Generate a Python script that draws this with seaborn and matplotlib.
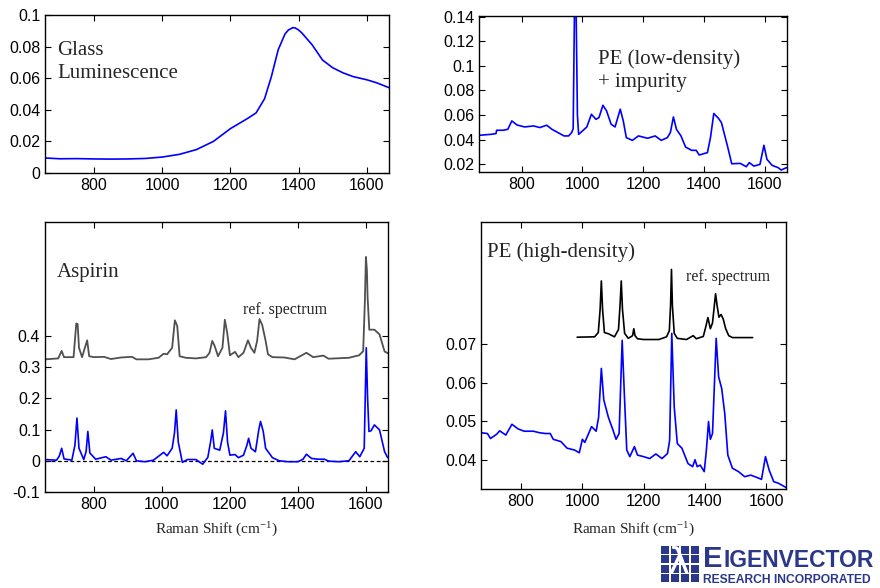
import matplotlib
matplotlib.use("Agg")
import matplotlib.pyplot as plt
import numpy as np
import seaborn as sns
from matplotlib.patches import Rectangle

# ---- data ----
x_ticks = [800, 1000, 1200, 1400, 1600]
x_tick_labels = ["800", "1000", "1200", "1400", "1600"]

glass_x = [656, 700, 750, 800, 850, 900, 950, 1000, 1050, 1100, 1150, 1200, 1250,
           1275, 1300, 1320, 1340, 1360, 1370, 1383, 1390, 1400, 1410, 1420, 1440,
           1470, 1500, 1530, 1560, 1600, 1630, 1665]
glass_y = [0.0095, 0.0090, 0.0091, 0.0089, 0.0088, 0.0089, 0.0092, 0.0101, 0.0118,
           0.0148, 0.0200, 0.0281, 0.0345, 0.0380, 0.0470, 0.0610, 0.0780, 0.0880,
           0.0905, 0.0920, 0.0918, 0.0905, 0.0885, 0.0860, 0.0810, 0.0715, 0.0666,
           0.0634, 0.0610, 0.0590, 0.0570, 0.0540]
glass_yticks = [0, 0.02, 0.04, 0.06, 0.08, 0.1]
glass_ylabels = ["0", "0.02", "0.04", "0.06", "0.08", "0.1"]

ldpe_x = [660, 700, 716, 718, 740, 755, 768, 785, 810, 840, 860, 883, 900, 920, 940,
          955, 965, 970, 975, 979, 984, 988, 1000, 1015, 1030, 1045, 1055, 1068, 1080,
          1095, 1108, 1125, 1135, 1145, 1165, 1185, 1215, 1240, 1260, 1280, 1290, 1300,
          1310, 1325, 1340, 1360, 1375, 1385, 1400, 1412, 1422, 1433, 1448, 1458, 1478,
          1492, 1520, 1540, 1550, 1565, 1585, 1598, 1608, 1625, 1645, 1655, 1672]
ldpe_y = [0.0436, 0.0444, 0.0450, 0.0477, 0.0477, 0.0485, 0.0553, 0.0520, 0.0504,
          0.0512, 0.0499, 0.0518, 0.0485, 0.0458, 0.0431, 0.0431, 0.0458, 0.0490,
          0.1600, 0.1600, 0.0600, 0.0444, 0.0470, 0.0504, 0.0607, 0.0566, 0.0580,
          0.0680, 0.0634, 0.0526, 0.0504, 0.0648, 0.0553, 0.0417, 0.0395, 0.0431,
          0.0412, 0.0431, 0.0395, 0.0417, 0.0458, 0.0585, 0.0485, 0.0431, 0.0341,
          0.0314, 0.0314, 0.0276, 0.0287, 0.0295, 0.0417, 0.0613, 0.0575, 0.0540,
          0.0349, 0.0205, 0.0208, 0.0181, 0.0214, 0.0186, 0.0200, 0.0355, 0.0241,
          0.0192, 0.0173, 0.0154, 0.0173]
ldpe_yticks = [0.02, 0.04, 0.06, 0.08, 0.1, 0.12, 0.14]
ldpe_ylabels = ["0.02", "0.04", "0.06", "0.08", "0.1", "0.12", "0.14"]

asp_x = [656, 690, 698, 705, 712, 735, 744, 750, 756, 770, 777, 782, 788, 805, 835,
         850, 880, 895, 915, 925, 950, 975, 1005, 1015, 1030, 1037, 1042, 1048, 1060,
         1075, 1100, 1120, 1135, 1143, 1148, 1154, 1170, 1181, 1187, 1193, 1200, 1215,
         1225, 1240, 1250, 1255, 1262, 1275, 1285, 1290, 1298, 1305, 1325, 1345, 1370,
         1400, 1415, 1425, 1440, 1460, 1478, 1490, 1520, 1550, 1570, 1582, 1595, 1598,
         1601, 1605, 1609, 1615, 1625, 1640, 1655, 1664]
asp_y = [0.004, 0.002, 0.015, 0.040, 0.006, 0.002, 0.050, 0.137, 0.040, 0.004, 0.030,
         0.094, 0.025, 0.005, 0.013, 0.002, 0.0075, 0.0, 0.024, 0.0, -0.003, 0.002,
         0.027, 0.016, 0.040, 0.090, 0.163, 0.060, -0.005, 0.004, 0.004, -0.011, 0.011,
         0.060, 0.099, 0.040, 0.034, 0.090, 0.160, 0.060, 0.018, 0.020, 0.010, 0.018,
         0.050, 0.072, 0.040, 0.029, 0.100, 0.126, 0.094, 0.040, 0.010, 0.0, -0.003,
         -0.003, 0.005, 0.021, 0.0075, 0.005, 0.005, -0.001, -0.003, 0.0, 0.029, 0.013,
         0.040, 0.200, 0.362, 0.200, 0.094, 0.096, 0.115, 0.099, 0.029, 0.010]
asp_ref_x = [656, 695, 705, 712, 740, 748, 752, 756, 765, 780, 786, 800, 830, 850, 880,
             912, 925, 960, 990, 1005, 1015, 1030, 1038, 1045, 1052, 1070, 1100, 1130,
             1140, 1148, 1155, 1165, 1178, 1185, 1192, 1200, 1215, 1225, 1240, 1253,
             1262, 1272, 1280, 1287, 1295, 1305, 1312, 1325, 1360, 1390, 1425, 1445,
             1475, 1490, 1550, 1580, 1592, 1597, 1600, 1603, 1605, 1610, 1625, 1640,
             1655, 1664]
asp_ref_y = [0.325, 0.328, 0.352, 0.332, 0.332, 0.440, 0.438, 0.362, 0.332, 0.386,
             0.335, 0.332, 0.333, 0.326, 0.331, 0.333, 0.325, 0.325, 0.330, 0.343,
             0.341, 0.362, 0.450, 0.432, 0.335, 0.330, 0.328, 0.332, 0.346, 0.384,
             0.368, 0.335, 0.362, 0.452, 0.410, 0.338, 0.349, 0.332, 0.346, 0.386,
             0.362, 0.346, 0.384, 0.454, 0.435, 0.384, 0.341, 0.332, 0.331, 0.325,
             0.346, 0.332, 0.337, 0.327, 0.330, 0.338, 0.351, 0.513, 0.653, 0.610,
             0.524, 0.420, 0.420, 0.405, 0.350, 0.345]
asp_yticks = [-0.1, 0, 0.1, 0.2, 0.3, 0.4]
asp_ylabels = ["-0.1", "0", "0.1", "0.2", "0.3", "0.4"]

hdpe_x = [669, 690, 700, 720, 730, 750, 770, 790, 810, 840, 860, 880, 895, 905, 930,
          950, 975, 990, 1000, 1008, 1030, 1045, 1053, 1062, 1070, 1085, 1100, 1110,
          1120, 1130, 1137, 1145, 1155, 1170, 1180, 1200, 1220, 1240, 1260, 1278, 1285,
          1292, 1300, 1310, 1325, 1345, 1360, 1368, 1375, 1385, 1398, 1405, 1412, 1418,
          1425, 1437, 1445, 1455, 1465, 1475, 1490, 1510, 1530, 1550, 1570, 1585, 1598,
          1610, 1625, 1640, 1665]
hdpe_y = [0.0470, 0.0468, 0.0455, 0.0466, 0.0475, 0.0464, 0.0492, 0.0480, 0.0474,
          0.0474, 0.0470, 0.0468, 0.0468, 0.0453, 0.0447, 0.0430, 0.0425, 0.0418,
          0.0453, 0.0445, 0.0486, 0.0474, 0.0510, 0.0637, 0.0555, 0.0510, 0.0477,
          0.0453, 0.0468, 0.0710, 0.0572, 0.0425, 0.0408, 0.0434, 0.0412, 0.0408,
          0.0403, 0.0415, 0.0403, 0.0416, 0.0450, 0.0728, 0.0537, 0.0442, 0.0430,
          0.0390, 0.0382, 0.0400, 0.0382, 0.0386, 0.0369, 0.0425, 0.0499, 0.0453,
          0.0468, 0.0715, 0.0615, 0.0585, 0.0520, 0.0412, 0.0378, 0.0369, 0.0356,
          0.0360, 0.0354, 0.0349, 0.0408, 0.0373, 0.0343, 0.0339, 0.0328]
hdpe_ref_x = [983, 1040, 1052, 1058, 1062, 1066, 1072, 1085, 1105, 1118, 1123, 1127,
              1131, 1138, 1150, 1164, 1168, 1172, 1180, 1200, 1250, 1275, 1284, 1288,
              1291, 1294, 1300, 1310, 1340, 1362, 1372, 1395, 1403, 1410, 1418, 1425,
              1431, 1435, 1440, 1446, 1453, 1460, 1468, 1478, 1490, 1556]
hdpe_ref_y = [0.0718, 0.0719, 0.0730, 0.0790, 0.0864, 0.0790, 0.0730, 0.0727, 0.0719,
              0.0738, 0.0800, 0.0864, 0.0790, 0.0728, 0.0715, 0.0722, 0.0740, 0.0722,
              0.0714, 0.0712, 0.0712, 0.0719, 0.0735, 0.0800, 0.0894, 0.0800, 0.0728,
              0.0715, 0.0712, 0.0722, 0.0714, 0.0720, 0.0745, 0.0769, 0.0740, 0.0755,
              0.0800, 0.0831, 0.0800, 0.0770, 0.0777, 0.0765, 0.0740, 0.0722, 0.0717,
              0.0717]
hdpe_yticks = [0.04, 0.05, 0.06, 0.07]
hdpe_ylabels = ["0.04", "0.05", "0.06", "0.07"]

# ---- style ----
sns.set_style("ticks")
plt.rcParams["font.family"] = ["Liberation Sans", "DejaVu Sans"]
plt.rcParams["axes.linewidth"] = 1.0
plt.rcParams["mathtext.default"] = "regular"

serif = ["Liberation Serif", "DejaVu Serif"]
navy = "#2b3788"

fig = plt.figure(figsize=(8.8, 5.88), dpi=100, facecolor="w")


def style_axes(ax, xlim, ylim, yticks, ylabels):
    ax.set_xlim(xlim)
    ax.set_ylim(ylim)
    ax.set_xticks(x_ticks, labels=x_tick_labels)
    ax.set_yticks(yticks, labels=ylabels)
    ax.tick_params(direction="in", top=True, right=True, length=4, width=0.8,
                   labelsize=11.5, colors="k")
    for s in ax.spines.values():
        s.set_visible(True)
        s.set_linewidth(1.0)
        s.set_color("k")
    ax.set_xlabel("")
    ax.set_ylabel("")


# Glass
ax1 = fig.add_axes([45 / 880, 1 - 173 / 588, 344 / 880, 158 / 588])
sns.lineplot(x=glass_x, y=glass_y, ax=ax1, color="blue", linewidth=1.2,
             sort=False, estimator=None)
style_axes(ax1, (656, 1665), (0, 0.1), glass_yticks, glass_ylabels)
ax1.text(0.035, 0.835, "Glass\nLuminescence", transform=ax1.transAxes, family=serif,
         fontsize=15, va="top", ha="left", linespacing=1.3)

# PE low density
ax2 = fig.add_axes([479 / 880, 1 - 172 / 588, 308 / 880, 156 / 588])
sns.lineplot(x=ldpe_x, y=ldpe_y, ax=ax2, color="blue", linewidth=1.2,
             sort=False, estimator=None)
style_axes(ax2, (660, 1674), (0.0138, 0.1405), ldpe_yticks, ldpe_ylabels)
ax2.text(0.386, 0.785, "PE (low-density)\n+ impurity", transform=ax2.transAxes,
         family=serif, fontsize=15, va="top", ha="left", linespacing=1.3)

# Aspirin
ax3 = fig.add_axes([45 / 880, 1 - 492 / 588, 343 / 880, 270 / 588])
ax3.axhline(0, color="k", lw=0.9, ls=(0, (3, 2)))
sns.lineplot(x=asp_ref_x, y=asp_ref_y, ax=ax3, color="#505050", linewidth=1.3,
             sort=False, estimator=None)
sns.lineplot(x=asp_x, y=asp_y, ax=ax3, color="blue", linewidth=1.2,
             sort=False, estimator=None)
style_axes(ax3, (656, 1665), (-0.1, 0.765), asp_yticks, asp_ylabels)
ax3.text(0.035, 0.85, "Aspirin", transform=ax3.transAxes, family=serif,
         fontsize=15, va="top", ha="left")
ax3.text(0.577, 0.674, "ref. spectrum", transform=ax3.transAxes, family=serif,
         fontsize=11.5, va="center", ha="left")

# PE high density
ax4 = fig.add_axes([481 / 880, 1 - 489 / 588, 305 / 880, 267 / 588])
sns.lineplot(x=hdpe_ref_x, y=hdpe_ref_y, ax=ax4, color="k", linewidth=1.2,
             sort=False, estimator=None)
sns.lineplot(x=hdpe_x, y=hdpe_y, ax=ax4, color="blue", linewidth=1.2,
             sort=False, estimator=None)
style_axes(ax4, (669, 1665), (0.0324, 0.1017), hdpe_yticks, hdpe_ylabels)
ax4.text(0.02, 0.925, "PE (high-density)", transform=ax4.transAxes, family=serif,
         fontsize=15, va="top", ha="left")
ax4.text(0.672, 0.794, "ref. spectrum", transform=ax4.transAxes, family=serif,
         fontsize=11.5, va="center", ha="left")

# shared x labels
xlab = r"Raman Shift (cm$^{-1}$)"
fig.text(216 / 880, 1 - 530 / 588, xlab, ha="center", va="center",
         family=serif, fontsize=11)
fig.text(633 / 880, 1 - 530 / 588, xlab, ha="center", va="center",
         family=serif, fontsize=11)

# logo
lax = fig.add_axes([660 / 880, 1 - 583 / 588, 40 / 880, 38 / 588])
lax.set_xlim(0, 4)
lax.set_ylim(0, 4)
lax.axis("off")
for i in range(4):
    for j in range(4):
        lax.add_patch(Rectangle((i + 0.06, j + 0.06), 0.88, 0.88, color=navy, lw=0))
lax.text(1.9, 1.95, "λ", color="w", fontsize=27, ha="center", va="center",
         family="DejaVu Sans")
big_e = fig.text(703 / 880, 1 - 567 / 588, "E", fontsize=21, weight="bold",
                 color=navy, ha="left", va="baseline", family="Liberation Sans")
fig.canvas.draw()
e_box = big_e.get_window_extent()
fig.text(e_box.x1 / 880 + 0.001, 1 - 567 / 588, "IGENVECTOR", fontsize=16.5,
         weight="bold", color=navy, ha="left", va="baseline", family="Liberation Sans")
fig.text(703 / 880, 1 - 583 / 588, "RESEARCH INCORPORATED", fontsize=8.7,
         weight="bold", color=navy, ha="left", va="baseline", family="Liberation Sans")

fig.savefig("out.png", dpi=100, facecolor="w")
